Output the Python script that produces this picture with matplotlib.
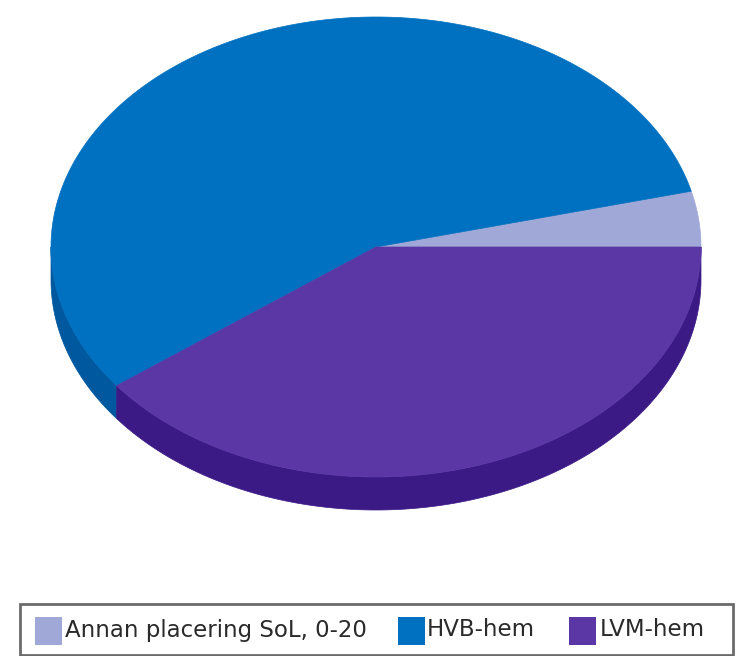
#!/usr/bin/env python3
import numpy as np
import matplotlib
matplotlib.use("Agg")
import matplotlib.pyplot as plt
from matplotlib.patches import Polygon, Rectangle

categories = ["Annan placering SoL, 0-20", "HVB-hem", "LVM-hem"]
shares = [3.9, 56.4, 39.7]
top_colors = ["#9fa8d6", "#0070c0", "#5b37a6"]
side_colors = ["#7f86ab", "#00589f", "#3b1a86"]

# pie geometry in image pixels
CX, CY = 376, 247
RX, RY = 325, 230
DEPTH = 33


def ellipse_points(a0, a1, dy=0):
    # angles in degrees, clockwise on screen
    t = np.radians(np.linspace(a0, a1, max(int(abs(a1 - a0) * 3), 2)))
    return np.column_stack([CX + RX * np.cos(t), CY + dy + RY * np.sin(t)])


def main():
    fig = plt.figure(figsize=(7.44, 6.56), dpi=100)
    ax = fig.add_axes([0, 0, 1, 1])
    ax.set_xlim(0, 744)
    ax.set_ylim(656, 0)
    ax.axis("off")

    # slices run counter-clockwise from the 3 o'clock position, last one ends there
    ends = -np.cumsum(shares) * 3.6
    starts = np.concatenate([[0], ends[:-1]])

    # side wall first, only the front half (0-180 deg on screen) shows
    for a_start, a_end, col in zip(starts, ends, side_colors):
        lo, hi = a_end % 360, (a_start % 360) or 360
        if lo > hi:
            lo, hi = lo - 360, hi
        lo, hi = max(lo, 0), min(hi, 180)
        if lo >= hi:
            continue
        top = ellipse_points(lo, hi)
        bottom = ellipse_points(hi, lo, dy=DEPTH)
        ax.add_patch(Polygon(np.vstack([top, bottom]), closed=True, fc=col, ec=col, lw=0.5))

    for a_start, a_end, col in zip(starts, ends, top_colors):
        pts = np.vstack([[CX, CY], ellipse_points(a_start, a_end)])
        ax.add_patch(Polygon(pts, closed=True, fc=col, ec=col, lw=0.5))

    # legend box
    ax.add_patch(Rectangle((20, 604), 713, 51, fc="white", ec="#6b6b6b", lw=2))
    swatch_x = [35, 398, 569]
    text_x = [65, 427, 600]
    for sx, tx, label, col in zip(swatch_x, text_x, categories, top_colors):
        ax.add_patch(Rectangle((sx, 617), 27, 28, fc=col, ec="none"))
        ax.text(tx, 630, label, fontsize=16.5, family="DejaVu Sans", color="#2a2a2a",
                va="center", ha="left")

    fig.savefig("out.png", dpi=100)


if __name__ == "__main__":
    main()
